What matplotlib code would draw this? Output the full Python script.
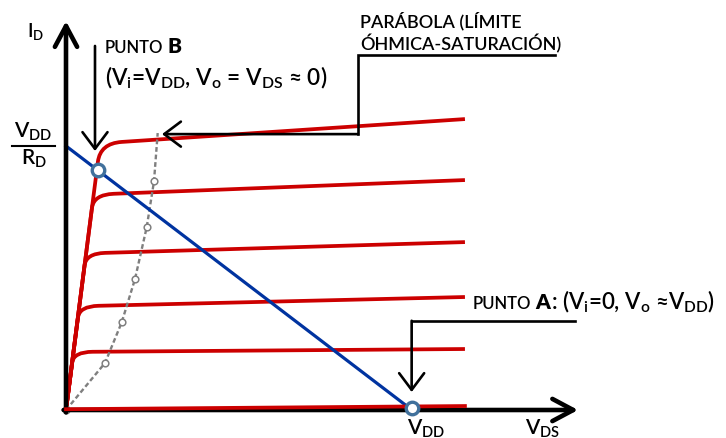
import matplotlib
matplotlib.use('Agg')
import matplotlib.pyplot as plt
from matplotlib.path import Path
from matplotlib.patches import PathPatch

plt.rcParams['font.family'] = ['Lato', 'DejaVu Sans']
plt.rcParams['font.weight'] = 'semibold'
plt.rcParams['mathtext.fontset'] = 'custom'
plt.rcParams['mathtext.rm'] = 'Lato:semibold'
plt.rcParams['mathtext.default'] = 'regular'

# circuit values (V, mA)
vdd = 10.0
id_max = 10.0          # V_DD / R_D
v_end = 11.53          # right end of the output curves

# output characteristics, one per V_GS step: knee of each curve and current at v_end
knee_vds = [0.22, 0.39, 0.58, 0.80, 0.99]
knee_id = [2.20, 3.93, 5.93, 8.16, 10.10]
end_id = [2.31, 4.28, 6.36, 8.71, 11.02]
round_i = [0.40, 0.42, 0.45, 0.50, 0.70]
round_v = [0.55, 0.55, 0.55, 0.58, 0.62]
cutoff_id = [0.03, 0.15]   # V_GS < V_T

# ohmic / saturation boundary
par_vds = [0.0, 1.127, 1.61, 1.994, 2.332, 2.543, 2.65]
par_id = [0.0, 1.78, 3.32, 4.96, 6.92, 8.66, 10.49]

# operating points
vds_b = 0.92
id_a = 0.06

red = '#cc0000'
blue = '#0033a0'
pt_edge = '#41719c'

fig = plt.figure(figsize=(7.26, 4.39), dpi=100)
ax = fig.add_axes([0, 0, 1, 1])
ax.set_xlim(-66 / 34.6, 660 / 34.6)
ax.set_ylim(-28 / 26.4, 411 / 26.4)
ax.axis('off')

# axes with arrow heads
ax.annotate('', xy=(0, 14.73), xytext=(0, -0.09),
            arrowprops=dict(arrowstyle='->, head_length=0.75, head_width=0.4',
                            lw=3.3, color='black', mutation_scale=20,
                            shrinkA=0, shrinkB=0), zorder=5)
ax.annotate('', xy=(14.8, 0), xytext=(-0.07, 0),
            arrowprops=dict(arrowstyle='->, head_length=0.75, head_width=0.4',
                            lw=3.3, color='black', mutation_scale=20,
                            shrinkA=0, shrinkB=0), zorder=5)

# I_D - V_DS curves: ohmic rise from the origin, rounded knee, saturation
for vk, ik, ie, ri, rv in zip(knee_vds, knee_id, end_id, round_i, round_v):
    i0 = ik - ri
    slope = (ie - ik) / (v_end - vk)
    verts = [(0, 0), (vk * i0 / ik, i0), (vk, ik), (vk + rv, ik + slope * rv), (v_end, ie)]
    codes = [Path.MOVETO, Path.LINETO, Path.CURVE3, Path.CURVE3, Path.LINETO]
    ax.add_patch(PathPatch(Path(verts, codes), fill=False, edgecolor=red, lw=2.7, zorder=3))
ax.plot([0, v_end], cutoff_id, color=red, lw=2.7, zorder=6)

# parabola
ax.plot(par_vds, par_id, color='#7f7f7f', lw=1.7, ls=(0, (2.0, 1.2)), zorder=4)
ax.plot(par_vds[:-1], par_id[:-1], ls='none', marker='o', ms=4.8, mfc='white',
        mec='#7f7f7f', mew=1.1, zorder=4)

# load line
ax.plot([0, vdd], [id_max, 0], color=blue, lw=2.3, zorder=4)
ax.plot([vds_b, vdd], [id_max * (1 - vds_b / vdd), id_a], ls='none', marker='o',
        ms=9, mfc='white', mec=pt_edge, mew=2.4, zorder=7)

# leader arrows
arrow = dict(arrowstyle='->, head_length=0.6, head_width=0.45', lw=1.9,
             color='black', mutation_scale=20, shrinkA=0, shrinkB=0)
ax.annotate('', xy=(0.838, 9.81), xytext=(0.838, 13.79), arrowprops=arrow, zorder=8)
ax.plot([14.13, 8.44, 8.44], [13.447, 13.447, 10.45], color='black', lw=1.9,
        solid_joinstyle='miter', zorder=8)
ax.annotate('', xy=(2.775, 10.45), xytext=(8.44, 10.45), arrowprops=arrow, zorder=8)
ax.plot([14.71, 9.99], [3.38, 3.38], color='black', lw=1.9, zorder=8)
ax.annotate('', xy=(9.99, 0.68), xytext=(9.99, 3.38), arrowprops=arrow, zorder=8)

renderer = fig.canvas.get_renderer()


def after(prev, s, gap=2, **kw):
    bb = prev.get_window_extent(renderer)
    x = ax.transData.inverted().transform((bb.x1 + gap, bb.y0))[0]
    return ax.text(x, prev.get_position()[1], s, va='baseline', **kw)


# labels
ax.text(-1.127, 14.17, 'I$_D$', fontsize=13.5, va='baseline')
ax.text(-0.94, 10.34, 'V$_{DD}$', fontsize=15, ha='center', va='baseline')
ax.plot([-1.56, -0.32], [10.01, 10.01], color='black', lw=1.5)
ax.text(-0.94, 9.32, 'R$_D$', fontsize=15, ha='center', va='baseline')
ax.text(9.855, -0.909, 'V$_{DD}$', fontsize=15, va='baseline')
ax.text(13.27, -0.909, 'V$_{DS}$', fontsize=15, va='baseline')

t = ax.text(1.127, 13.56, 'PUNTO', fontsize=12, va='baseline')
after(t, 'B', gap=4, fontsize=15, fontweight='heavy')
ax.text(1.127, 12.35, '(V$_i$=V$_{DD}$, V$_o$ = V$_{DS}$ ≈ 0)', fontsize=16.3, va='baseline')

ax.text(8.497, 14.545, 'PARÁBOLA (LÍMITE', fontsize=13, va='baseline')
ax.text(8.497, 13.67, 'ÓHMICA-SATURACIÓN)', fontsize=13, va='baseline')

t = ax.text(11.755, 3.864, 'PUNTO', fontsize=12, va='baseline')
t = after(t, 'A', gap=4, fontsize=15, fontweight='heavy')
after(t, ': (V$_i$=0, V$_o$ ≈V$_{DD}$)', gap=1, fontsize=16)

fig.savefig('out.png', dpi=100)
